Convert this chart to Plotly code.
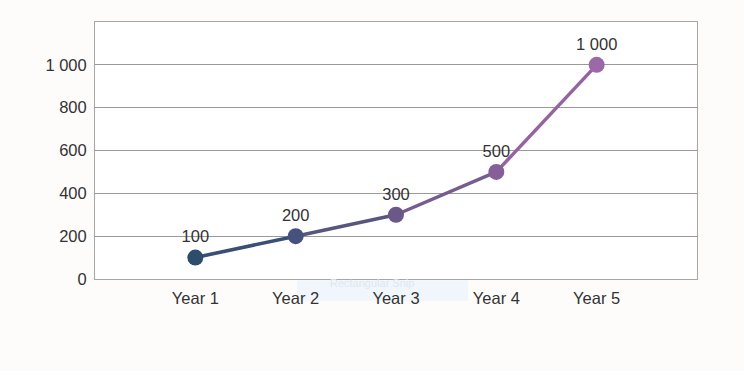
import plotly.graph_objects as go

categories = ["Year 1", "Year 2", "Year 3", "Year 4", "Year 5"]
values = [100, 200, 300, 500, 1000]
value_labels = ["100", "200", "300", "500", "1 000"]
point_colors = ["#2e4d6d", "#46517d", "#6a5889", "#865f98", "#9c69a8"]
segment_colors = ["#3b4f74", "#58557f", "#775c8f", "#9463a0"]
y_ticks = [0, 200, 400, 600, 800, 1000]
y_tick_labels = ["0", "200", "400", "600", "800", "1 000"]

FS = 16.5
fig = go.Figure()
xs = list(range(len(categories)))
for i in range(len(values) - 1):
    fig.add_trace(go.Scatter(
        x=[xs[i], xs[i + 1]], y=[values[i], values[i + 1]],
        mode="lines", line=dict(color=segment_colors[i], width=3.5),
        hoverinfo="skip", showlegend=False))
fig.add_trace(go.Scatter(
    x=xs, y=values, mode="markers+text",
    marker=dict(size=16, color=point_colors),
    text=value_labels, textposition="top center",
    textfont=dict(size=FS, color="#333333", family="Liberation Sans, Arial"),
    showlegend=False))

# faint screenshot artifact
fig.add_shape(type="rect", xref="paper", yref="paper",
              x0=(297 - 95) / 602, x1=(468 - 95) / 602, y0=-0.085, y1=-0.005,
              fillcolor="#f1f6fc", line=dict(width=0), layer="below")
fig.add_annotation(xref="paper", yref="paper", x=(328 - 95) / 602, y=-0.045,
                   text="Rectangular Snip", showarrow=False, xanchor="left",
                   font=dict(size=11, color="#dfe6ef", family="Liberation Sans"))

fig.update_layout(
    width=744, height=371,
    margin=dict(l=95, r=47, t=22, b=92),
    paper_bgcolor="#fdfcfb", plot_bgcolor="#ffffff",
    font=dict(family="Liberation Sans, Arial", size=FS, color="#333333"),
    xaxis=dict(range=[-1, 5], tickvals=xs, ticktext=categories, showgrid=False,
               zeroline=False, showline=True, linecolor="#a6a6a6", linewidth=1,
               mirror=True, ticks="", ticklen=0, ticklabelstandoff=4,
               tickfont=dict(size=FS, color="#333333")),
    yaxis=dict(range=[0, 1200], tickvals=y_ticks, ticktext=y_tick_labels,
               showgrid=True, gridcolor="#9a9a9a", gridwidth=1, zeroline=False,
               showline=True, linecolor="#a6a6a6", mirror=True, ticks="",
               ticklabelstandoff=4, tickfont=dict(size=FS, color="#333333")),
)
fig.write_html("out.html", config={"displayModeBar": False},
               post_script="document.body.style.margin='0';document.body.style.background='#fdfcfb';")
